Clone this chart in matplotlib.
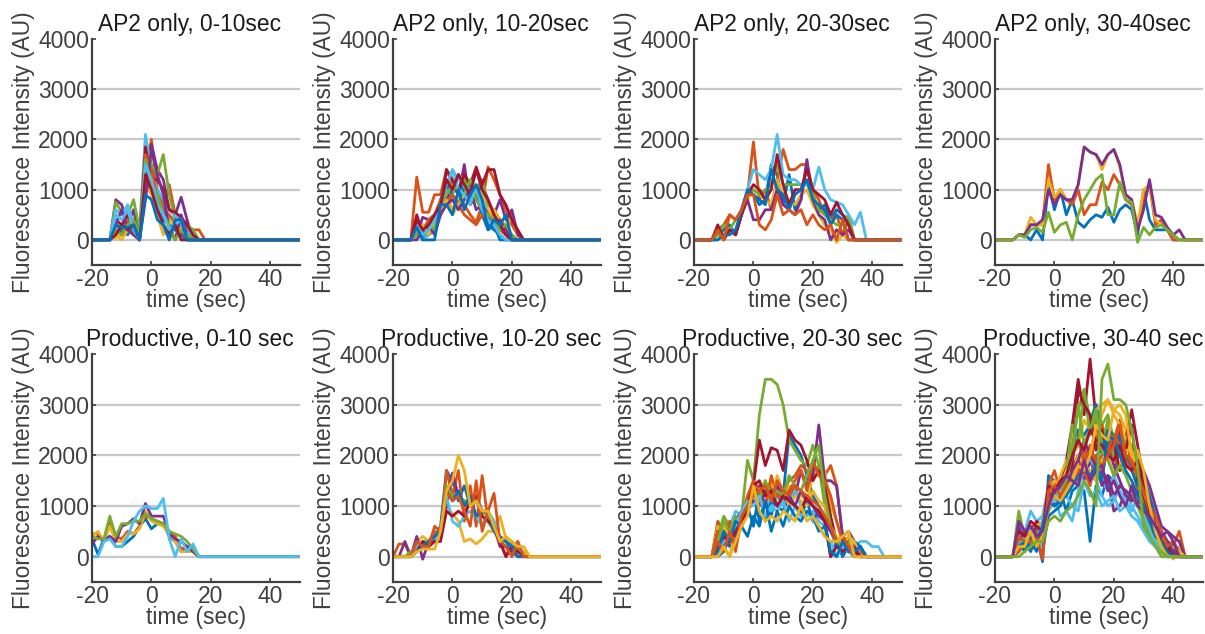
"""Intensity traces of AP2-only and productive events, binned by lifetime (2x4 panels)."""
import numpy as np
import matplotlib
matplotlib.use("Agg")
import matplotlib.pyplot as plt

# sample times (sec), 2 s frames from -20 to 50; traces are zero after their last listed value
TIME = np.arange(-20, 51, 2)

TITLES = ["AP2 only, 0-10sec", "AP2 only, 10-20sec", "AP2 only, 20-30sec", "AP2 only, 30-40sec",
          "Productive, 0-10 sec", "Productive, 10-20 sec", "Productive, 20-30 sec", "Productive, 30-40 sec"]

AP2_0_10 = [
    [0, 0, 0, 0, 200, 150, 300, 100, 0, 1200, 1500, 900, 600, 300, 200, 100, 0],
    [0, 0, 0, 0, 100, 300, 200, 400, 100, 1400, 2000, 1000, 700, 1100, 500, 300, 250, 200, 200, 0],
    [0, 0, 0, 0, 50, 100, 200, 100, 0, 1000, 1300, 700, 300, 0, 300, 400, 200, 0],
    [0, 0, 0, 0, 800, 700, 300, 600, 0, 1300, 1900, 1400, 1200, 600, 500, 850, 400, 0],
    [0, 0, 0, 0, 750, 550, 500, 800, 200, 2000, 1500, 1300, 1700, 900, 400, 200, 300, 200, 0],
    [0, 0, 0, 0, 600, 500, 700, 300, 100, 2100, 1300, 1000, 800, 400, 500, 300, 200, 0],
    [0, 0, 0, 0, 400, 300, 500, 200, 0, 1850, 1200, 1200, 1000, 600, 550, 450, 300, 100, 0],
    [0, 0, 0, 0, 300, 200, 100, 300, 0, 1000, 1100, 600, 400, 300, 200, 100, 0],
    [0, 0, 0, 0, 200, 100, 400, 300, 100, 1700, 1400, 800, 600, 500, 300, 200, 0],
    [0, 0, 0, 0, 100, 0, 200, 100, 0, 1100, 900, 500, 100, 400, 300, 200, 100, 0],
    [0, 0, 0, 0, 300, 600, 200, 100, 0, 800, 1800, 1300, 900, 200, 0, 500, 100, 0],
    [0, 0, 0, 0, 200, 100, 300, 400, 100, 1600, 1100, 900, 500, 300, 0, 200, 100, 0],
    [0, 0, 0, 0, 500, 400, 600, 200, 0, 1500, 1200, 700, 500, 200, 300, 400, 0],
    [0, 0, 0, 0, 100, 300, 200, 300, 0, 1300, 1000, 600, 300, 100, 300, 0],
    [0, 0, 0, 0, 300, 250, 250, 300, 0, 900, 800, 400, 300, 0, 400, 400, 0],
]

AP2_10_20 = [
    [0, 0, 0, 0, 200, 0, 300, 400, 700, 800, 1000, 1300, 900, 1100, 800, 600, 300, 200, 100, 0],
    [0, 0, 0, 0, 1250, 550, 550, 900, 900, 1400, 1100, 900, 700, 500, 350, 700, 1450, 1200, 900, 600, 300, 100, 0],
    [0, 0, 0, 0, 300, 100, 200, 300, 600, 900, 600, 800, 1000, 700, 1100, 900, 600, 400, 300, 200, 500, 100, 0],
    [0, 0, 0, 0, 100, 450, 400, 500, 700, 800, 1100, 900, 1500, 700, 900, 1100, 800, 500, 800, 400, 600, 100, 0],
    [0, 0, 0, 0, 200, 100, 100, 300, 600, 1000, 900, 1300, 1200, 900, 1000, 1200, 700, 600, 400, 200, 100, 0],
    [0, 0, 0, 0, 200, 0, 100, 300, 500, 1000, 1400, 1200, 1100, 1000, 900, 800, 500, 400, 200, 100, 0],
    [0, 0, 0, 0, 500, 100, 300, 400, 600, 1400, 1200, 1000, 1300, 1100, 1450, 1100, 1400, 1400, 900, 700, 400, 200, 0],
    [0, 0, 0, 0, 100, 300, 100, 200, 800, 1100, 900, 700, 1000, 800, 1000, 500, 200, 300, 0],
    [0, 0, 0, 0, 300, 200, 400, 500, 800, 700, 900, 700, 500, 400, 300, 500, 400, 300, 200, 100, 0],
    [0, 0, 0, 0, 200, 300, 100, 300, 600, 800, 500, 700, 900, 800, 1000, 700, 500, 600, 400, 300, 100, 0],
    [0, 0, 0, 0, 0, 200, 300, 100, 500, 700, 800, 600, 800, 1000, 600, 700, 500, 300, 400, 200, 0],
    [0, 0, 0, 0, 100, 200, 300, 200, 700, 900, 1100, 1000, 900, 1200, 800, 600, 500, 400, 200, 300, 100, 0],
    [0, 0, 0, 0, 300, 100, 200, 400, 700, 1100, 1400, 1000, 900, 700, 1100, 600, 400, 300, 100, 0],
    [0, 0, 0, 0, 400, 200, 300, 500, 700, 1200, 1000, 1300, 1100, 900, 1400, 1000, 800, 500, 300, 100, 0],
    [0, 0, 0, 0, 250, 0, 0, 0, 700, 700, 500, 1000, 600, 900, 1100, 800, 200, 400, 300, 500, 0],
]

AP2_20_30 = [
    [0, 0, 0, 0, 100, 200, 300, 100, 600, 900, 900, 700, 800, 1500, 1300, 700, 1300, 600, 800, 1500, 900, 600, 700, 400, 600, 500, 400, 0],
    [0, 0, 0, 0, 200, 300, 500, 400, 600, 900, 1950, 800, 1000, 600, 1200, 1800, 1400, 1400, 1500, 1500, 1000, 800, 500, 400, 500, 100, 400, 0],
    [0, 0, 0, 0, 100, 0, 200, 100, 500, 800, 1000, 900, 800, 700, 1200, 900, 800, 700, 900, 1000, 700, 500, 300, 200, -50, 100, 0],
    [0, 0, 0, 0, 200, 100, 200, 100, 500, 800, 400, 400, 600, 600, 1000, 700, 600, 500, 800, 1600, 800, 500, 400, 0, 200, 100, 200, 0],
    [0, 0, 0, 0, 100, 300, 200, 400, 500, 900, 1000, 900, 1000, 1100, 1500, 1100, 1100, 1100, 1100, 1100, 900, 600, 500, 400, 300, 300, 500, 0],
    [0, 0, 0, 0, 0, 100, 200, 100, 600, 1000, 1400, 1300, 1200, 1400, 2100, 1300, 1200, 1200, 1100, 1100, 1000, 1450, 1000, 800, 750, 700, 500, 300, 550, 0],
    [0, 0, 0, 0, 300, 0, 200, 100, 500, 900, 1100, 1000, 800, 1000, 1700, 1100, 700, 1000, 1000, 1400, 1000, 900, 800, 500, 750, 500, 300, 0],
    [0, 0, 0, 0, 0, 100, 100, 200, 600, 1000, 900, 800, 700, 1400, 1000, 900, 600, 900, 1000, 1200, 800, 700, 600, 300, 500, 400, 0],
    [0, 0, 0, 0, 200, 0, 500, 400, 600, 900, 900, 300, 200, 400, 900, 500, 600, 500, 600, 300, 500, 300, 200, 300, 0, 400, 0],
]

AP2_30_40 = [
    [0, 0, 0, 0, 100, 100, 0, 200, 0, 1100, 600, 1000, 500, 800, 350, 250, 400, 500, 450, 650, 350, 600, 700, 600, 100, 1000, 400, 200, 200, 200, 0],
    [0, 0, 0, 0, 100, 100, 300, 300, 300, 1500, 800, 1000, 800, 700, 1000, 500, 700, 700, 1150, 1000, 1300, 1100, 800, 700, 200, 800, 1100, 300, 400, 200, 0],
    [0, 0, 0, 0, 100, 100, 450, 300, 300, 1200, 850, 1000, 800, 800, 1100, 1850, 1750, 1700, 1400, 1700, 1800, 1450, 900, 800, 300, 1000, 1100, 400, 300, 200, 100, 0],
    [0, 0, 0, 0, 100, 100, 300, 300, 400, 1000, 700, 900, 800, 800, 1100, 1850, 1750, 1700, 1500, 1700, 1800, 1500, 900, 800, 200, 600, 1200, 500, 450, 250, 100, 200, 0],
    [0, 0, 0, 0, 100, 50, 200, 250, 150, 550, 150, 300, 350, 0, 500, 800, 1000, 1200, 1300, 500, 500, 1150, 800, 750, -50, 250, 100, 250, 300, 200, 100, 0],
]

PROD_0_10 = [
    [350, 50, 350, 400, 200, 200, 300, 400, 600, 750, 550, 650, 650, 400, 300, 100, 200, 100, 0],
    [450, 450, 300, 700, 400, 350, 500, 450, 600, 800, 750, 700, 650, 500, 400, 150, 200, 200, 0],
    [400, 500, 300, 600, 300, 300, 450, 450, 550, 900, 700, 650, 600, 450, 300, 100, 100, 100, 0],
    [250, 400, 300, 400, 300, 600, 650, 750, 650, 1050, 800, 800, 800, 450, 350, 300, 200, 100, 0],
    [400, 350, 350, 800, 400, 650, 650, 700, 700, 850, 750, 700, 650, 500, 450, 400, 300, 150, 0],
    [0, 0, 300, 350, 200, 200, 400, 700, 900, 1000, 950, 950, 1150, 350, 0, 350, 100, 250, 0],
]

PROD_10_20 = [
    [0, 0, 0, 0, 200, 300, 200, 400, 600, 1700, 1500, 1100, 1400, 1000, 1100, 900, 800, 700, 300, 300, 100, 200, 0],
    [0, 250, 250, 0, 300, 200, 300, 500, 400, 1700, 1200, 1700, 700, 1400, 600, 1600, 700, 500, 300, 0, 300, 100, 100, 0],
    [0, 0, 0, 0, 300, 400, 300, 300, 400, 1000, 850, 700, 300, 350, 250, 350, 500, 500, 800, 350, 300, 100, 100, 0],
    [0, 0, 300, 0, 400, -50, 300, 300, 500, 1000, 1650, 1200, 1100, 1000, 1200, 900, 800, 600, 200, 200, 100, 0],
    [0, 0, 0, 100, 200, 300, 300, 400, 500, 1400, 1200, 1200, 1100, 1000, 1100, 900, 800, 600, 300, 300, 200, 100, 0],
    [0, 0, 0, 0, 200, 300, 200, 300, 500, 1200, 700, 600, 800, 900, 800, 600, 900, 700, 400, 300, 200, 300, 0],
    [0, 0, 0, 0, 100, 300, 200, 300, 300, 900, 800, 900, 800, 1100, 1200, 800, 700, 600, 300, 0, 200, 100, 0],
    [0, 0, 0, 0, 100, 200, 300, 400, 500, 1300, 1100, 1300, 1000, 1200, 800, 900, 900, 500, 400, 300, 200, 0],
    [0, 0, 0, 0, 300, 200, 200, 600, 500, 1300, 1100, 1200, 900, 600, 1500, 500, 900, 1250, 300, 200, 0, 300, 0],
    [0, 0, 0, 0, 100, 150, 150, 150, 500, 1300, 1500, 2000, 1700, 1000, 1100, 900, 900, 600, 300, 400, 300, 200, 200, 0],
]

PROD_20_30 = [
    [0, 0, 0, 0, 0, 300, 200, 500, 600, 900, 1300, 700, 1100, 800, 1400, 1200, 2400, 2200, 2000, 1600, 1200, 1000, 800, 500, 300, 0, 200, 100, 200, 0],
    [0, 0, 0, 0, 700, 500, 300, 200, 700, 900, 1500, 1300, 1200, 1400, 1200, 1300, 1500, 1600, 1800, 1700, 1500, 1800, 1600, 1800, 1400, 400, 300, 200, 100, 0],
    [0, 0, 0, 0, 600, 200, 0, 500, 700, 1000, 1400, 1100, 1300, 1500, 1000, 1200, 1400, 1300, 1200, 1100, 1600, 1700, 1700, 1000, 700, 300, 100, 0],
    [0, 0, 0, 0, 300, 200, 500, 400, 600, 1100, 1200, 1400, 1000, 1300, 1400, 1100, 1300, 1200, 1700, 1400, 1600, 2600, 1500, 1500, 1400, 400, 500, 300, 0],
    [0, 0, 0, 0, 400, 800, 600, 700, 800, 1900, 1500, 2800, 3500, 3500, 3400, 3000, 2300, 2100, 1900, 1800, 2200, 1800, 1000, 500, 200, 100, 300, 100, 0],
    [0, 0, 0, 0, 200, 500, 600, 900, 800, 1000, 1200, 1000, 1300, 900, 1200, 1000, 1100, 1300, 1000, 800, 900, 700, 600, 500, 300, 200, 100, 200, 300, 300, 200, 200, 0],
    [0, 0, 0, 0, 500, 300, 600, 700, 900, 1100, 1400, 2300, 1800, 2150, 2100, 1700, 2500, 2300, 2200, 1900, 1500, 1700, 1400, 800, 300, 100, 200, 100, 0],
    [0, 0, 0, 0, 0, 100, 400, 300, 600, 1000, 600, 1300, 700, 1100, 1000, 900, 1200, 1000, 800, 1100, 700, 900, 700, 0, 300, 100, 400, 300, 200, 0],
    [0, 0, 0, 0, 500, 400, 700, 100, 800, 1200, 1500, 1300, 1000, 1600, 1200, 1100, 1300, 1500, 1700, 1300, 1900, 1600, 1500, 1200, 700, 300, 200, 100, 0],
    [0, 0, 0, 0, 300, 600, 400, 600, 800, 1000, 1200, 1300, 1500, 1100, 1600, 1300, 1000, 1200, 1100, 1000, 1300, 1100, 1000, 600, 400, 200, 400, 300, 0],
    [0, 0, 0, 0, 100, 200, 300, 500, 700, 900, 1100, 1000, 1300, 1200, 1000, 1100, 1200, 1000, 1300, 1100, 1000, 800, 700, 500, 300, 400, 100, 200, 0],
    [0, 0, 0, 0, 300, 700, 500, 800, 600, 1000, 1300, 1100, 1500, 1200, 1300, 1200, 1600, 1400, 1300, 1600, 1900, 2200, 1200, 600, 300, 200, 100, 0],
    [0, 0, 0, 0, 100, 300, 400, 600, 900, 1100, 1000, 1200, 800, 1000, 900, 1100, 700, 1000, 800, 900, 700, 600, 400, 300, 0, 200, 100, 0],
    [0, 0, 0, 0, 200, 400, 300, 500, 700, 900, 1400, 1500, 1200, 1300, 1000, 1200, 1100, 1000, 900, 1200, 1000, 900, 700, 0, 200, 100, 200, 100, 0],
    [0, 0, 0, 0, 100, 500, 300, 700, 600, 400, 800, 600, 1100, 500, 900, 600, 1000, 800, 700, 900, 800, 500, 600, 100, 0, 300, 100, 100, 200, 0],
    [0, 0, 0, 0, 300, 100, 500, 200, 800, 1000, 1200, 1300, 1400, 1100, 1500, 1300, 1200, 1400, 1300, 1200, 1100, 1000, 800, 600, 300, 400, 200, 0],
    [0, 0, 0, 0, 0, 200, 0, 300, 600, 800, 1400, 900, 700, 800, 700, 900, 800, 700, 1000, 700, 800, 600, 400, 300, 300, 400, 500, 0],
]

PROD_30_40 = [
    [0, 0, 0, 0, 100, 300, 100, 400, -100, 1600, 1500, 1300, 900, 1300, 1400, 1300, 300, 1400, 1200, 1600, 1500, 2300, 2400, 1900, 1800, 1500, 1100, 600, 400, 200, 100, 0],
    [0, 0, 0, 0, 300, 200, 500, 300, 600, 1100, 1200, 1400, 1700, 2000, 2300, 1900, 2200, 1800, 2000, 2500, 2300, 2700, 2200, 2000, 1600, 1300, 900, 600, 400, 300, 200, 500, 0],
    [0, 0, 0, 0, 200, 400, 300, 500, 400, 1000, 1300, 1500, 1400, 1800, 2000, 2200, 2600, 2400, 2800, 3100, 2900, 2800, 2500, 2100, 2100, 1400, 900, 500, 300, 100, -50, 200, 0],
    [0, 0, 0, 0, 500, 400, 600, 500, 700, 1200, 1400, 1500, 1600, 1700, 2000, 1500, 1900, 1600, 1700, 1500, 900, 1000, 1300, 1100, 1200, 1700, 1400, 1000, 600, 500, 400, 300, 0],
    [0, 0, 0, 0, 900, 400, 600, 500, 700, 1300, 1100, 1400, 1800, 2200, 2900, 3300, 2700, 3000, 2600, 2800, 2300, 2100, 2400, 1900, 1500, 900, 500, 200, 0],
    [0, 0, 0, 0, 200, 500, 900, 700, 800, 1400, 1200, 800, 900, 700, 1300, 1800, 1600, 1500, 1200, 1000, 1100, 1400, 1300, 1000, 800, 600, 400, 200, 100, 0],
    [0, 0, 0, 0, 400, 300, 500, 700, 600, 1300, 1500, 1400, 1900, 2600, 3500, 2800, 3900, 2700, 2100, 2400, 2000, 2500, 2300, 2900, 2200, 1500, 1000, 600, 300, 200, 100, 0],
    [0, 0, 0, 0, 100, 200, 300, 100, 500, 1100, 1000, 1200, 1400, 1900, 2500, 2400, 2600, 3000, 2100, 2300, 2000, 2400, 2000, 1900, 1500, 1200, 900, 500, 300, 100, 0],
    [0, 0, 0, 0, 300, 500, 400, 300, 600, 1400, 1700, 1300, 1500, 1800, 1600, 2100, 1900, 2300, 2600, 2200, 2000, 1700, 2400, 1800, 1300, 1000, 700, 400, 200, 300, 0],
    [0, 0, 0, 0, 100, 200, 400, 300, 500, 1200, 1300, 1600, 1900, 2000, 2200, 2700, 2500, 2900, 3000, 3100, 2800, 2600, 2300, 2000, 1500, 1200, 800, 400, 200, 100, 0],
    [0, 0, 0, 0, 600, 300, 500, 400, 300, 1000, 1400, 1300, 1500, 1400, 1800, 1700, 2100, 1900, 1600, 2200, 1800, 1500, 1200, 1100, 1300, 1000, 800, 500, 400, 200, 100, 0],
    [0, 0, 0, 0, 200, 400, 300, 600, 400, 1100, 1300, 1200, 1700, 2600, 2200, 3300, 2400, 2800, 2200, 2700, 1900, 2000, 2300, 2200, 1800, 1200, 700, 300, 200, 0],
    [0, 0, 0, 0, 300, 200, 500, 400, 200, 900, 1100, 1000, 1500, 1600, 1400, 1700, 2000, 1600, 1500, 1300, 1600, 1300, 1100, 900, 1200, 800, 500, 300, 100, 0],
    [0, 0, 0, 0, 200, 400, 600, 500, 400, 1200, 1300, 1100, 1400, 1800, 3300, 3000, 2800, 2100, 2500, 2000, 2300, 1700, 2100, 2600, 1500, 1200, 800, 500, 300, 100, 0],
    [0, 0, 0, 0, 300, 100, 400, 200, 100, 800, 900, 1000, 1300, 1600, 1700, 1900, 1500, 2000, 2100, 2500, 2400, 2200, 2000, 1700, 1400, 1600, 1200, 800, 500, 300, 200, 0],
    [0, 0, 0, 0, 100, 300, 200, 500, 300, 1000, 1200, 1200, 1300, 1600, 1500, 1700, 1400, 2000, 1800, 2100, 2400, 2200, 1900, 1700, 1800, 1300, 1000, 600, 400, 200, 300, 100, 0],
    [0, 0, 0, 0, 400, 300, 500, 600, 700, 1200, 1500, 1400, 1700, 1600, 2000, 1800, 1700, 1500, 1900, 2000, 1600, 1800, 2100, 2100, 1700, 1300, 900, 700, 300, 0, 200, 100, 0],
    [0, 0, 0, 0, 300, 500, 400, 600, 500, 1300, 1000, 1100, 1400, 1700, 1900, 2300, 2000, 1800, 1400, 1600, 1200, 1400, 1300, 1200, 1000, 1500, 1100, 600, 500, 300, 100, 0],
    [0, 0, 0, 0, 300, 300, 200, 400, 600, 900, 1200, 1300, 1500, 2000, 3000, 2200, 2500, 2900, 2100, 1900, 1600, 1800, 1600, 1300, 1000, 700, 400, 200, 100, 0],
    [0, 0, 0, 0, 200, 400, 600, 300, 700, 1000, 1100, 1300, 1200, 1000, 900, 1500, 1200, 1300, 1000, 1100, 1200, 900, 1000, 800, 700, 500, 300, 200, 100, 0],
    [0, 0, 0, 0, 500, 400, 700, 600, 500, 1400, 1300, 1500, 1600, 2000, 2300, 2100, 2500, 2300, 2200, 2000, 1900, 2200, 1800, 1700, 1900, 1400, 900, 600, 300, 200, 0],
    [0, 0, 0, 0, 200, 300, 200, 300, 600, 1100, 1000, 1100, 1200, 1400, 1600, 1700, 1600, 1800, 1500, 2400, 2300, 2000, 1700, 1500, 1200, 1000, 700, 400, 300, 100, 0],
    [0, 0, 0, 0, 400, 300, 300, 400, -50, 1300, 1400, 1200, 1400, 1500, 1700, 1900, 2100, 1900, 1800, 2000, 2200, 2600, 2000, 1900, 1600, 1300, 1000, 800, 500, 200, 300, 0],
    [0, 0, 0, 0, 200, 200, 500, 200, 400, 1000, 1200, 1100, 1300, 1500, 1800, 1700, 2000, 2600, 2400, 2300, 2900, 3000, 2800, 2000, 2100, 1700, 1000, 500, 200, 0],
    [0, 0, 0, 0, 700, 500, 600, 400, 500, 1000, 1300, 1400, 1600, 1500, 1400, 1900, 1500, 1700, 1800, 1300, 1500, 1200, 1000, 1400, 1000, 900, 800, 600, 400, 500, 300, 0],
    [0, 0, 0, 0, 0, 100, 200, 300, 300, 700, 800, 700, 900, 1000, 1200, 1500, 1300, 1000, 3500, 3800, 3100, 3100, 3000, 2500, 1800, 600, 400, 200, 100, 0],
]

PANELS = [AP2_0_10, AP2_10_20, AP2_20_30, AP2_30_40, PROD_0_10, PROD_10_20, PROD_20_30, PROD_30_40]

YTICKS = [0, 1000, 2000, 3000, 4000]
XTICKS = [-20, 0, 20, 40]

COLORS = ["#0072BD", "#D95319", "#EDB120", "#7E2F8E", "#77AC30", "#4DBEEE", "#A2142F"]
AX_COL = "#404040"

plt.rcParams["font.family"] = ["Liberation Sans", "DejaVu Sans"]
plt.rcParams["axes.unicode_minus"] = False

fig = plt.figure(figsize=(12.05, 6.34), dpi=100)
W, H = 1205.0, 634.0
lefts = [92, 393, 694, 995]
rows = [(39, 265), (354, 582)]

for k, traces in enumerate(PANELS):
    r, c = divmod(k, 4)
    top, bot = rows[r]
    ax = fig.add_axes([lefts[c] / W, 1 - bot / H, 208 / W, (bot - top) / H])
    for g in YTICKS[:-1]:
        ax.axhline(g, color="#c8c8c8", lw=1.6, zorder=0)
    for i, tr in enumerate(traces):
        y = np.array(tr + [0] * (len(TIME) - len(tr)), dtype=float)
        ax.plot(TIME, y, color=COLORS[i % 7], lw=2.0, zorder=2)
    ax.set_xlim(-20, 50)
    ax.set_ylim(-500, 4000)
    ax.set_xticks(XTICKS)
    ax.set_yticks(YTICKS)
    for s in ("top", "right"):
        ax.spines[s].set_visible(False)
    for s in ("left", "bottom"):
        ax.spines[s].set_color(AX_COL)
        ax.spines[s].set_linewidth(1.6)
    ax.tick_params(direction="in", length=3, width=1.2, color=AX_COL, labelcolor=AX_COL, labelsize=16.5)
    ax.tick_params(axis="y", pad=2)
    ax.tick_params(axis="x", pad=2)
    ax.set_title(TITLES[k], color="#1a1a1a", fontsize=16.4, pad=6, x=0.47)
    ax.set_xlabel("time (sec)", color=AX_COL, fontsize=16.4, labelpad=-1)
    ax.set_ylabel("Fluorescence Intensity (AU)", color=AX_COL, fontsize=16.4, labelpad=2)

fig.savefig("out.png", dpi=100)
